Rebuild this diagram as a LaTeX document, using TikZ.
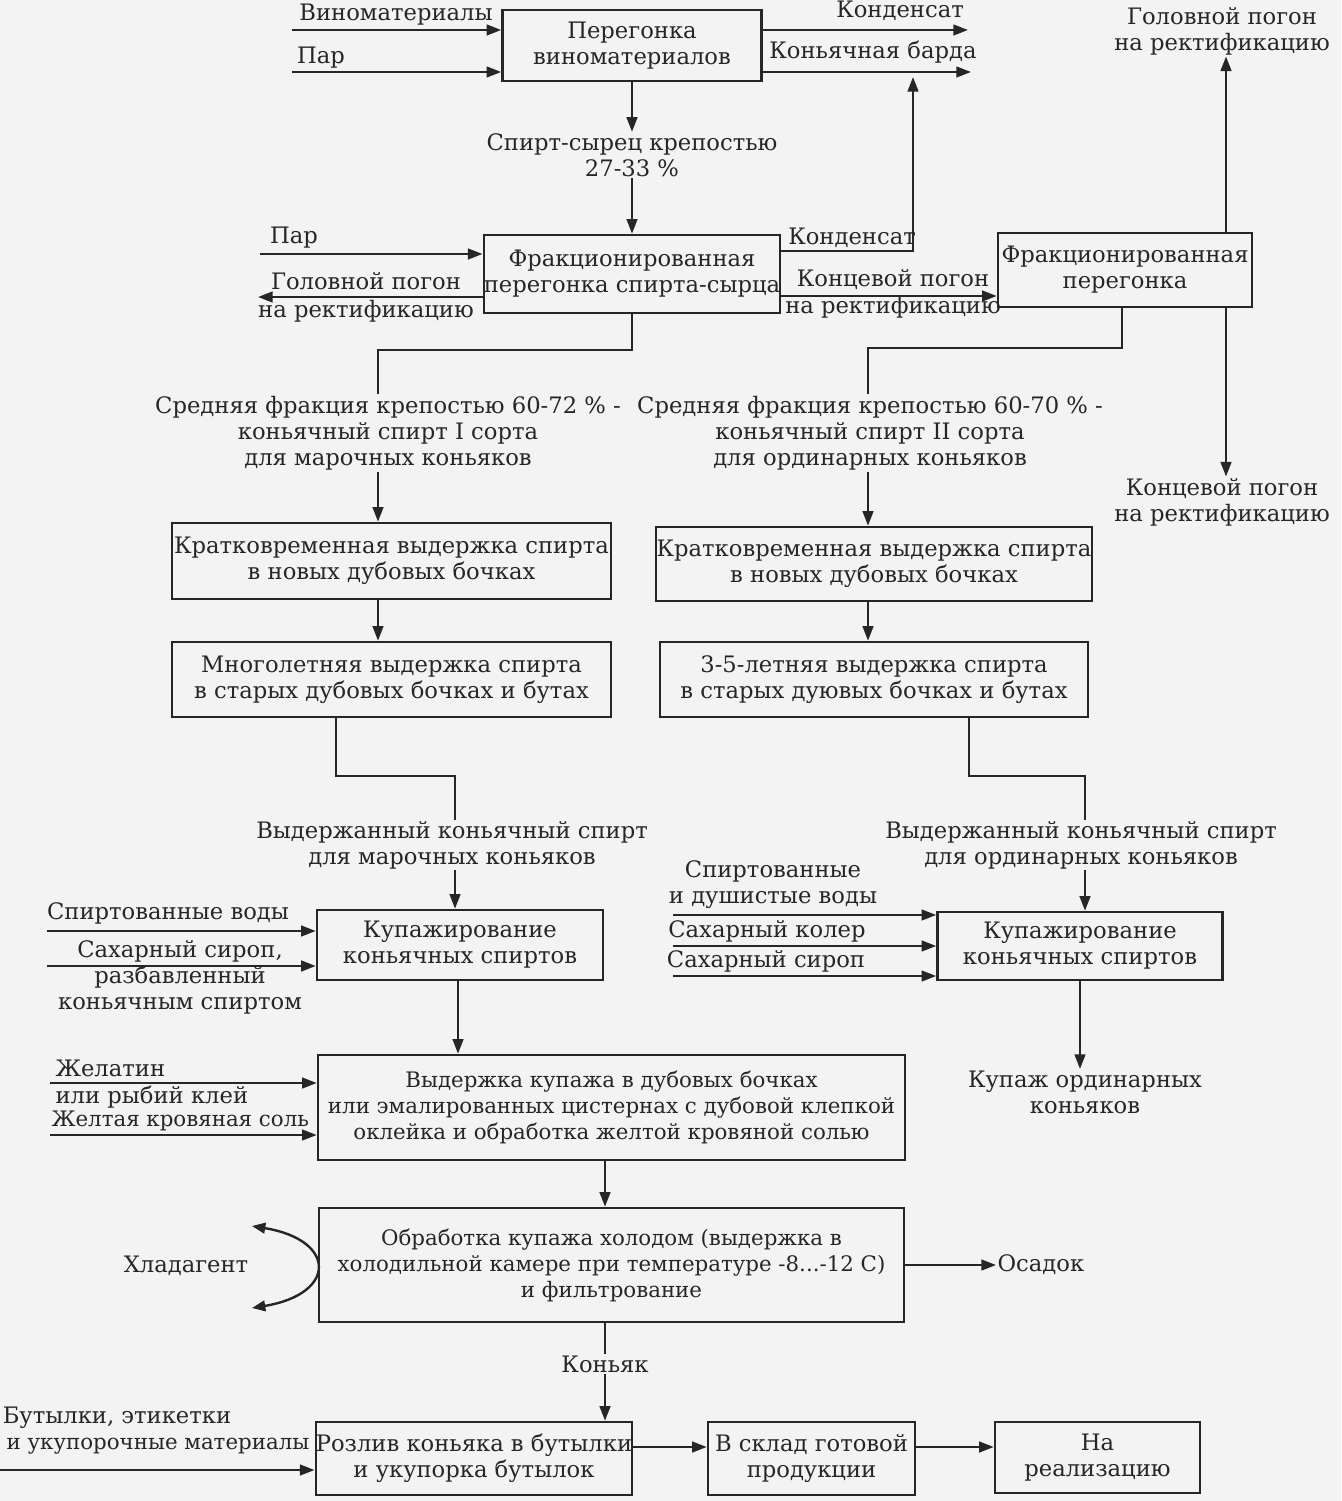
\documentclass[tikz,border=0pt]{standalone}
\usepackage{fontspec}
\setmainfont{DejaVu Serif}
\usetikzlibrary{arrows.meta}
\definecolor{ink}{HTML}{262626}
\definecolor{paper}{HTML}{F3F3F3}
\tikzset{
  every node/.style={font=\fontsize{17}{19.5}\selectfont, text=ink, inner sep=1pt},
  pbox/.style 2 args={draw=ink, line width=1.9pt, minimum width=#1*0.75pt, minimum height=#2*0.75pt, inner sep=0pt, align=center},
  lbl/.style={align=center, inner sep=1pt},
  small/.style={font=\fontsize{16}{19.5}\selectfont},
  con/.style={draw=ink, line width=1.8pt},
  arr/.style={con, -{Triangle[length=11pt,width=8pt]}},
  darr/.style={con, {Triangle[length=10pt,width=8pt]}-{Triangle[length=10pt,width=8pt]}},
}
\begin{document}
\begin{tikzpicture}[x=0.75pt,y=-0.75pt]
\fill[paper] (0,0) rectangle (1341,1501);
\useasboundingbox (0,0) rectangle (1341,1501);

% ---- row 1
\node[pbox={259}{71}] (b1) at (632,45.5) {Перегонка\\виноматериалов};
\coordinate (vin) at (292,30);
\coordinate (par1) at (292,72);
\draw[arr] (vin) -- (vin -| b1.west);
\draw[arr] (par1) -- (par1 -| b1.west);
\node[lbl] (tvin) at (396,15) {Виноматериалы};
\node[lbl] (tpar1) at (321,58) {Пар};
\coordinate (kon1) at (968,30);
\coordinate (bar1) at (971,72);
\draw[arr] (kon1 -| b1.east) -- (kon1);
\draw[arr] (bar1 -| b1.east) -- (bar1);
\node[lbl] (tkon1) at (900,11) {Конденсат};
\node[lbl] (tbar1) at (873,52) {Коньячная барда};

\node[lbl] (sp) at (632,155) {Спирт-сырец крепостью\\27-33 \%};
\node[pbox={287}{78}] (b2) at (632,274) {Фракционированная\\перегонка спирта-сырца};
\draw[arr] (b1.south) -- (b1.south |- sp.north);
\draw[arr] (b1.south |- sp.south) -- (b1.south |- b2.north);

% ---- row 2
\coordinate (par2) at (260,254);
\draw[arr] (par2) -- (par2 -| b2.west);
\node[lbl] (tpar2) at (294,238) {Пар};
\coordinate (gol2) at (258,297);
\draw[arr] (gol2 -| b2.west) -- (gol2);
\node[lbl] (tgol2a) at (366,281) {Головной погон};
\node[lbl] (tgol2b) at (366,311) {на ректификацию};

\coordinate (k2a) at (913,251);
\coordinate (k2) at (913,77);
\draw[arr] (k2a -| b2.east) -- (k2a) -- (k2);
\node[lbl] (tkon2) at (852,238) {Конденсат};

\node[pbox={254}{74}] (b3) at (1125,270) {Фракционированная\\перегонка};
\coordinate (konc) at (800,296);
\draw[arr] (konc -| b2.east) -- (konc -| b3.west);
\node[lbl] (tkonca) at (893,280) {Концевой погон};
\node[lbl] (tkoncb) at (893,307) {на ректификацию};

\node[lbl] (gt) at (1222,31) {Головной погон\\на ректификацию};
\coordinate (gx) at (1226,150);
\draw[arr] (gx |- b3.north) -- (gx |- gt.south);
\node[lbl] (kr) at (1222,502) {Концевой погон\\на ректификацию};
\draw[arr] (gx |- b3.south) -- (gx |- kr.north);

% ---- middle fractions
\node[lbl] (sr1) at (388,433) {Средняя фракция крепостью 60-72 \% -\\коньячный спирт I сорта\\для марочных коньяков};
\node[lbl] (sr2) at (870,433) {Средняя фракция крепостью 60-70 \% -\\коньячный спирт II сорта\\для ординарных коньяков};
\coordinate (s2) at (378,350);
\draw[con] (b2.south) -- (b2.south |- s2) -- (s2) -- (s2 |- sr1.north);
\coordinate (s3) at (1122,348);
\coordinate (s3b) at (868,348);
\draw[con] (s3 |- b3.south) -- (s3) -- (s3b) -- (s3b |- sr2.north);

\node[pbox={439}{76}] (k1l) at (391.5,561) {Кратковременная выдержка спирта\\в новых дубовых бочках};
\node[pbox={439}{75}] (m1l) at (391.5,679.5) {Многолетняя выдержка спирта\\в старых дубовых бочках и бутах};
\node[pbox={436}{74}] (k1r) at (874,564) {Кратковременная выдержка спирта\\в новых дубовых бочках};
\node[pbox={428}{75}] (m1r) at (874,679.5) {3-5-летняя выдержка спирта\\в старых дуювых бочках и бутах};
\draw[arr] (s2 |- sr1.south) -- (s2 |- k1l.north);
\draw[arr] (s2 |- k1l.south) -- (s2 |- m1l.north);
\draw[arr] (s3b |- sr2.south) -- (s3b |- k1r.north);
\draw[arr] (s3b |- k1r.south) -- (s3b |- m1r.north);

\node[lbl] (vl) at (452,845) {Выдержанный коньячный спирт\\для марочных коньяков};
\node[lbl] (vr) at (1081,845) {Выдержанный коньячный спирт\\для ординарных коньяков};
\coordinate (e1) at (336,776);
\coordinate (e2) at (455,776);
\draw[con] (e1 |- m1l.south) -- (e1) -- (e2) -- (e2 |- vl.north);
\coordinate (e3) at (969,776);
\coordinate (e4) at (1085,776);
\draw[con] (e3 |- m1r.south) -- (e3) -- (e4) -- (e4 |- vr.north);

% ---- blending
\node[pbox={286}{70}] (kup1) at (460,945) {Купажирование\\коньячных спиртов};
\node[pbox={285}{68}] (kup2) at (1080,946) {Купажирование\\коньячных спиртов};
\draw[arr] (e2 |- vl.south) -- (e2 |- kup1.north);
\draw[arr] (e4 |- vr.south) -- (e4 |- kup2.north);

\coordinate (i1) at (47,931);
\coordinate (i2) at (47,966);
\draw[arr] (i1) -- (i1 -| kup1.west);
\draw[arr] (i2) -- (i2 -| kup1.west);
\node[lbl] (ti1) at (168,913) {Спиртованные воды};
\node[lbl] (ti2) at (180,977) {Сахарный сироп,\\разбавленный\\коньячным спиртом};

\coordinate (j1) at (673,915);
\coordinate (j2) at (673,946);
\coordinate (j3) at (673,976);
\draw[arr] (j1) -- (j1 -| kup2.west);
\draw[arr] (j2) -- (j2 -| kup2.west);
\draw[arr] (j3) -- (j3 -| kup2.west);
\node[lbl] (tj1) at (773,885) {Спиртованные\\и душистые воды};
\node[lbl] (tj2) at (767,931) {Сахарный колер};
\node[lbl] (tj3) at (766,961) {Сахарный сироп};

\node[lbl] (ko) at (1085,1092) {Купаж ординарных\\коньяков};
\draw[arr] (kup2.south) -- (kup2.south |- ko.north);

% ---- ageing of blend
\node[pbox={587}{105}, small] (vk) at (611.5,1107.5) {Выдержка купажа в дубовых бочках\\или эмалированных цистернах с дубовой клепкой\\оклейка и обработка желтой кровяной солью};
\coordinate (kv) at (458,1000);
\draw[arr] (kv |- kup1.south) -- (kv |- vk.north);
\coordinate (g1) at (50,1083);
\coordinate (g2) at (50,1135);
\draw[arr] (g1) -- (g1 -| vk.west);
\draw[arr] (g2) -- (g2 -| vk.west);
\node[lbl, anchor=west] (tg1) at (54,1068) {Желатин};
\node[lbl, anchor=west] (tg2) at (54,1097) {или рыбий клей};
\node[lbl, anchor=west, small] (tg3) at (50,1121) {Желтая кровяная соль};

% ---- cold treatment
\node[pbox={585}{114}, small] (ox) at (611.5,1265) {Обработка купажа холодом (выдержка в\\холодильной камере при температуре -8...-12 С)\\и фильтрование};
\coordinate (vo) at (605,1180);
\draw[arr] (vo |- vk.south) -- (vo |- ox.north);
\node[lbl] (hl) at (186,1266) {Хладагент};
\coordinate (hla) at (252,1226);
\coordinate (hlb) at (252,1308);
\draw[darr] (hla) .. controls (337,1240) and (337,1294) .. (hlb);
\node[lbl, anchor=west] (tos) at (996,1265) {Осадок};
\draw[arr] (ox.east) -- (ox.east -| tos.west);

\node[lbl] (kn) at (605,1364) {Коньяк};
\draw[con] (vo |- ox.south) -- (vo |- kn.north);

% ---- bottling
\node[pbox={312}{73}] (rz) at (474,1458.5) {Розлив коньяка в бутылки\\и укупорка бутылок};
\node[pbox={207}{73}] (sk) at (811.5,1458.5) {В склад готовой\\продукции};
\node[pbox={205}{71}] (re) at (1097.5,1457.5) {На\\реализацию};
\draw[arr] (vo |- kn.south) -- (vo |- rz.north);
\coordinate (bt) at (0,1470);
\draw[arr] (bt) -- (bt -| rz.west);
\node[lbl] (tb1) at (117,1418) {Бутылки, этикетки};
\node[lbl, small] (tb2) at (158,1446) {и укупорочные материалы};
\coordinate (ry) at (0,1447);
\draw[arr] (ry -| rz.east) -- (ry -| sk.west);
\draw[arr] (ry -| sk.east) -- (ry -| re.west);
\end{tikzpicture}
\end{document}
